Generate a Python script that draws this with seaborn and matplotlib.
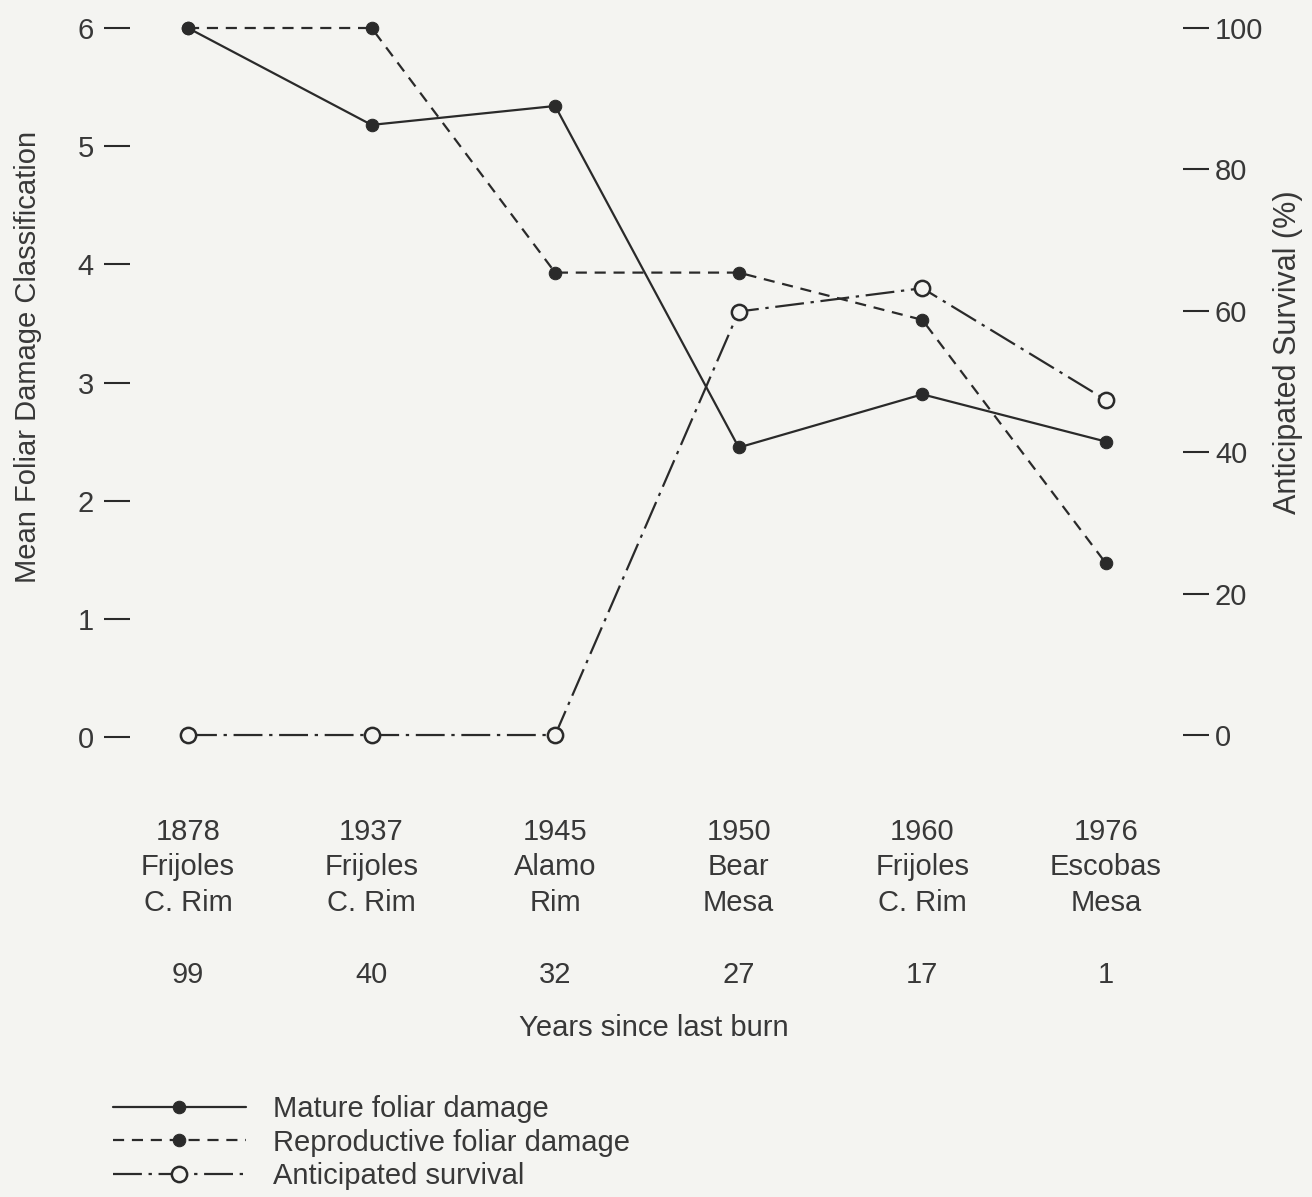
import matplotlib
matplotlib.use('Agg')
import matplotlib.pyplot as plt
import seaborn as sns
import numpy as np

# ---- data ----
YEARS = ['1878', '1937', '1945', '1950', '1960', '1976']
SITES = ['Frijoles\nC. Rim', 'Frijoles\nC. Rim', 'Alamo\nRim', 'Bear\nMesa', 'Frijoles\nC. Rim', 'Escobas\nMesa']
YEARS_SINCE = [99, 40, 32, 27, 17, 1]
MATURE = [6.0, 5.18, 5.34, 2.45, 2.90, 2.50]
REPRODUCTIVE = [6.0, 6.0, 3.93, 3.93, 3.53, 1.47]
SURVIVAL = [0, 0, 0, 59.9, 63.2, 47.4]

BG = '#f4f4f1'
INK = '#2a2a2a'
TXT = '#383838'
FS = 21

sns.set_theme(style='white')
plt.rcParams['font.family'] = ['Liberation Sans', 'DejaVu Sans']
plt.rcParams['text.color'] = TXT
plt.rcParams['axes.labelcolor'] = TXT
plt.rcParams['xtick.color'] = TXT
plt.rcParams['ytick.color'] = TXT

fig = plt.figure(figsize=(13.12, 11.97), dpi=100, facecolor=BG)
ax = fig.add_axes([130 / 1312, 1 - 737 / 1197, 1053 / 1312, 709 / 1197])
ax.set_facecolor(BG)
ax2 = ax.twinx()

x = np.arange(len(YEARS))

sns.lineplot(x=x, y=MATURE, ax=ax, color=INK, lw=1.6, marker='o', markersize=9,
             markerfacecolor=INK, markeredgecolor=INK, label='Mature foliar damage', clip_on=False)
sns.lineplot(x=x, y=REPRODUCTIVE, ax=ax, color=INK, lw=1.6, linestyle=(0, (5, 3.5)), marker='o',
             markersize=9, markerfacecolor=INK, markeredgecolor=INK,
             label='Reproductive foliar damage', clip_on=False)
sns.lineplot(x=x, y=SURVIVAL, ax=ax2, color=INK, lw=1.6, linestyle=(0, (13, 3, 1.5, 3)), marker='o',
             markersize=11, markerfacecolor=BG, markeredgecolor=INK, markeredgewidth=1.8,
             label='Anticipated survival', clip_on=False)

ax.set_xlim(-0.316, 5.42)
ax.set_ylim(0, 6)
ax2.set_ylim(-0.28, 98.9)

for a in (ax, ax2):
    for s in a.spines.values():
        s.set_visible(False)

ax.set_yticks(range(0, 7))
ax.tick_params(axis='y', direction='out', length=19, width=1.5, pad=7, labelsize=FS, color=INK, left=True)
ax2.set_yticks(range(0, 101, 20))
ax2.tick_params(axis='y', direction='out', length=19, width=1.5, pad=4, labelsize=FS, color=INK, right=True)

labels = [f'{y}\n{s}\n\n{n}' for y, s, n in zip(YEARS, SITES, YEARS_SINCE)]
ax.set_xticks(x)
ax.set_xticklabels(labels, linespacing=1.36)
ax.tick_params(axis='x', length=0, pad=58, labelsize=FS)

ax.set_xlabel('Years since last burn', fontsize=FS)
ax.xaxis.set_label_coords(0.497, -(1014 - 737) / 709)
ax.xaxis.label.set_va('top')

ax.set_ylabel('Mean Foliar Damage Classification', fontsize=FS)
ax.yaxis.set_label_coords((42 - 130) / 1053, (737 - 357) / 709)
ax2.set_ylabel('Anticipated Survival (%)', fontsize=FS + 1)
ax2.yaxis.set_label_coords((1273 - 130) / 1053, (737 - 352) / 709)

if ax.get_legend():
    ax.get_legend().remove()
if ax2.get_legend():
    ax2.get_legend().remove()
h1, l1 = ax.get_legend_handles_labels()
h2, l2 = ax2.get_legend_handles_labels()
fig.legend(h1 + h2, l1 + l2, loc='upper left', bbox_to_anchor=(113 / 1312, 1 - 1095 / 1197),
           frameon=False, fontsize=FS, handlelength=4.55, handletextpad=0.95, labelspacing=0.19,
           borderpad=0, borderaxespad=0, numpoints=1)

fig.savefig('out.png', dpi=100, facecolor=BG)
